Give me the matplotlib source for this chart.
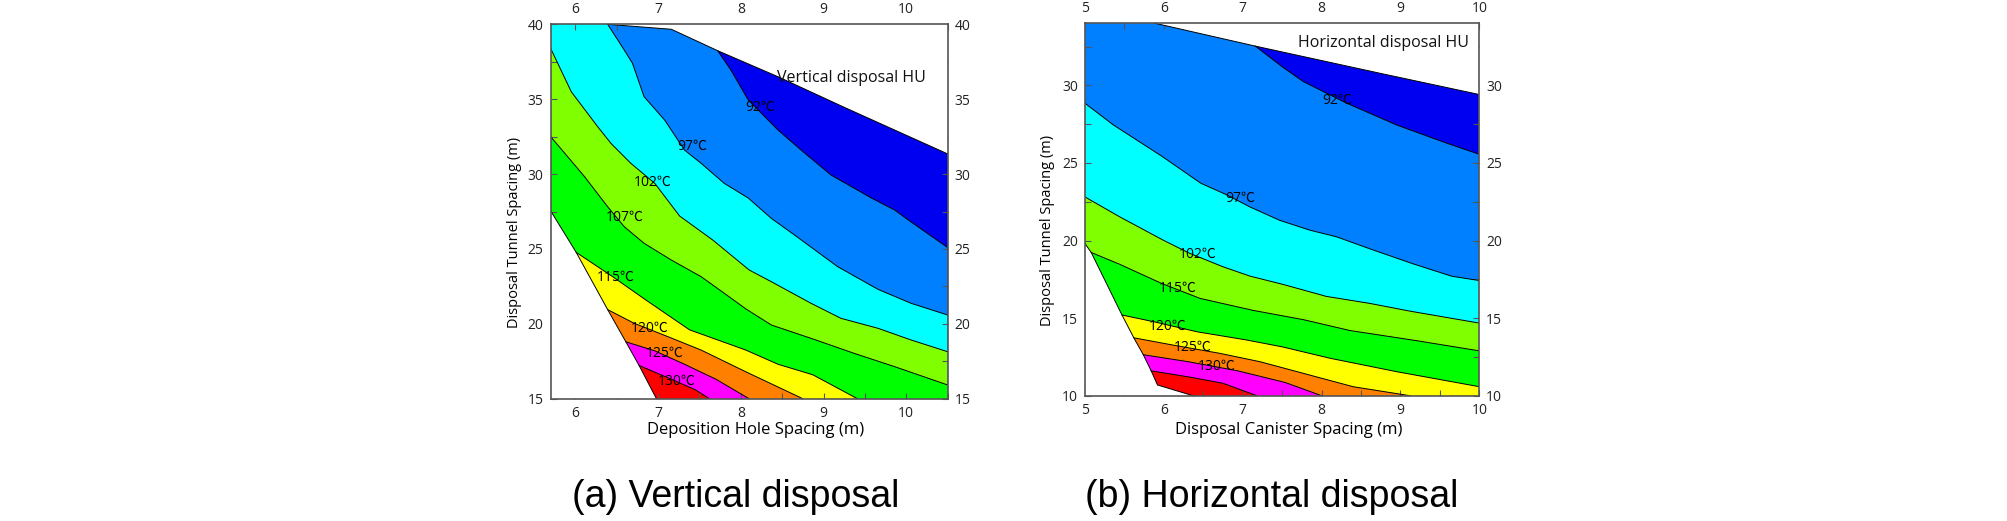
import numpy as np
import matplotlib.pyplot as plt
from matplotlib.ticker import MultipleLocator

plt.rcParams['font.family'] = ['Open Sans', 'Noto Sans CJK KR', 'DejaVu Sans']

# band colours, coldest band first
band_colors = ['#0000F0', '#0080FF', '#00FFFF', '#80FF00', '#00FF00',
               '#FFFF00', '#FF8000', '#FF00FF', '#FF0000']

# ---- (a) vertical disposal: isotherms ----
v_upper_x = [6.39, 7.16, 7.72, 8.45, 9.25, 10.5]
v_upper_y = [40.0, 39.67, 38.24, 36.5, 34.46, 31.35]
v_cut_x = [5.70, 6.01, 6.39, 6.61, 6.77, 6.98]
v_cut_y = [27.55, 24.77, 20.95, 18.8, 17.22, 15.0]

v_92_x = [7.72, 7.88, 8.09, 8.45, 8.73, 9.09, 9.58, 9.86, 10.06, 10.5]
v_92_y = [38.24, 36.95, 34.95, 32.94, 31.6, 29.94, 28.4, 27.6, 26.8, 25.1]
v_97_x = [6.39, 6.59, 6.69, 6.83, 7.08, 7.32, 7.52, 7.80, 8.09, 8.37, 8.65, 9.17, 9.66, 10.06, 10.5]
v_97_y = [40.0, 38.29, 37.4, 35.17, 33.6, 31.6, 30.72, 29.38, 28.4, 27.04, 25.93, 23.82, 22.3, 21.37, 20.59]
v_102_x = [5.70, 5.95, 6.27, 6.43, 6.67, 6.96, 7.26, 7.66, 8.1, 8.37, 8.85, 9.21, 9.66, 10.06, 10.5]
v_102_y = [38.4, 35.5, 33.16, 32.05, 30.72, 29.38, 27.2, 25.6, 23.6, 22.81, 21.37, 20.37, 19.7, 18.92, 18.14]
v_107_x = [5.70, 5.87, 6.11, 6.39, 6.59, 6.83, 7.16, 7.52, 7.80, 8.06, 8.37, 8.85, 9.37, 9.86, 10.5]
v_107_y = [32.5, 31.4, 29.83, 27.82, 26.49, 25.38, 24.26, 23.15, 22.04, 21.0, 19.92, 19.03, 18.03, 17.14, 15.92]
v_115_x = [6.01, 6.45, 6.85, 7.38, 8.06, 8.45, 8.87, 9.41]
v_115_y = [24.77, 23.15, 21.6, 19.6, 18.25, 17.3, 16.6, 15.0]
v_120_x = [6.39, 6.71, 7.12, 7.52, 8.06, 8.75]
v_120_y = [20.95, 20.04, 19.14, 18.25, 16.8, 15.0]
v_125_x = [6.61, 6.96, 7.32, 7.70, 8.10]
v_125_y = [18.8, 18.2, 17.3, 16.3, 15.0]
v_130_x = [6.77, 7.16, 7.45, 7.62]
v_130_y = [17.22, 16.3, 15.6, 15.0]

v_label_text = ['92℃', '97℃', '102℃', '107℃', '115℃', '120℃', '125℃', '130℃']
v_label_x = [8.23, 7.41, 6.94, 6.60, 6.49, 6.90, 7.08, 7.22]
v_label_y = [34.46, 31.88, 29.43, 27.11, 23.08, 19.7, 18.03, 16.14]

# ---- (b) horizontal disposal ----
h_upper_x = [5.89, 7.16, 8.74, 10.0]
h_upper_y = [34.0, 32.53, 30.78, 29.41]
h_cut_x = [5.0, 5.08, 5.47, 5.62, 5.74, 5.84, 5.92, 6.37]
h_cut_y = [19.81, 19.23, 15.2, 13.73, 12.64, 11.6, 10.69, 10.0]

h_92_x = [7.16, 7.35, 7.50, 7.77, 8.32, 8.95, 9.59, 10.0]
h_92_y = [32.53, 31.79, 31.2, 30.24, 28.85, 27.45, 26.27, 25.56]
h_97_x = [5.0, 5.36, 5.97, 6.47, 6.80, 7.09, 7.47, 7.85, 8.19, 8.66, 9.16, 9.65, 10.0]
h_97_y = [28.85, 27.45, 25.45, 23.69, 22.94, 22.17, 21.3, 20.67, 20.24, 19.38, 18.5, 17.7, 17.42]
h_102_x = [5.0, 5.44, 5.99, 6.33, 6.75, 7.09, 7.52, 8.06, 8.61, 9.12, 10.0]
h_102_y = [22.81, 21.53, 20.03, 19.17, 18.31, 17.71, 17.16, 16.4, 15.95, 15.45, 14.68]
h_115_x = [5.08, 5.44, 5.97, 6.46, 7.13, 7.77, 8.36, 9.2, 10.0]
h_115_y = [19.23, 18.47, 17.24, 16.27, 15.5, 14.9, 14.2, 13.55, 12.89]
h_120_x = [5.47, 5.87, 6.42, 7.05, 7.50, 8.11, 8.95, 10.0]
h_120_y = [15.2, 14.77, 14.12, 13.59, 13.15, 12.41, 11.55, 10.58]
h_125_x = [5.62, 6.12, 6.71, 7.22, 7.77, 8.40, 9.12]
h_125_y = [13.73, 13.26, 12.73, 12.19, 11.44, 10.58, 10.0]
h_130_x = [5.74, 6.31, 6.94, 7.54, 8.0]
h_130_y = [12.64, 12.19, 11.6, 10.85, 10.0]
h_135_x = [5.84, 6.33, 6.75, 7.18]
h_135_y = [11.6, 11.2, 10.8, 10.0]

h_label_text = ['92℃', '97℃', '102℃', '115℃', '120℃', '125℃', '130℃']
h_label_x = [8.20, 6.97, 6.43, 6.18, 6.05, 6.36, 6.67]
h_label_y = [29.04, 22.75, 19.12, 16.92, 14.44, 13.11, 11.87]

edge_col = '#555555'


def draw_panel(ax, xlim, ylim, upper, cut, lines, labels, ytick_step, title):
    x0, x1 = xlim
    y0, y1 = ylim
    m = 2.0
    ax.set_facecolor(band_colors[0])
    # each isotherm: paint everything on its hot side with the next colour
    for i, (lx, ly) in enumerate(lines):
        px = list(lx) + [lx[-1], x0 - m]
        py = list(ly) + [y0 - m, y0 - m]
        if ly[0] >= cut[1][0] or lx[0] <= x0:
            px += [x0 - m, lx[0]]
            py += [y1 + m, y1 + m]
        ax.fill(px, py, color=band_colors[i + 1], lw=0, zorder=1)
    # blank regions outside the computed domain
    ux, uy = upper
    ax.fill(list(ux) + [x1 + m, ux[0]], list(uy) + [y1 + m, y1 + m],
            color='white', lw=0, zorder=2)
    cx, cy = cut
    ax.fill(list(cx) + [x0 - m, x0 - m], list(cy) + [y0 - m, cy[0]],
            color='white', lw=0, zorder=2)
    for lx, ly in lines + [upper, cut]:
        ax.plot(lx, ly, color='black', lw=0.7, zorder=3)
    for t, tx, ty in zip(*labels):
        ax.text(tx, ty, t, ha='center', va='center', fontsize=10,
                color='black', zorder=4)
    ax.set_xlim(x0, x1)
    ax.set_ylim(y0, y1)
    ax.xaxis.set_major_locator(MultipleLocator(1))
    ax.xaxis.set_minor_locator(MultipleLocator(0.5))
    ax.yaxis.set_major_locator(MultipleLocator(ytick_step))
    ax.yaxis.set_minor_locator(MultipleLocator(ytick_step / 2))
    ax.tick_params(which='both', direction='in', top=True, right=True,
                   labeltop=True, labelright=True, length=4, width=0.8,
                   color=edge_col, labelsize=10, labelcolor='#222222', pad=5)
    for s in ax.spines.values():
        s.set_color(edge_col)
        s.set_linewidth(1.2)
        s.set_zorder(5)
    ax.text(title[1], title[2], title[0], transform=ax.transAxes,
            ha='right', va='center', fontsize=11.5, color='#111111', zorder=6)


fig = plt.figure(figsize=(20.08, 5.21), dpi=100)
ax1 = fig.add_axes([0.2742, 0.2347, 0.1977, 0.7186])
ax2 = fig.add_axes([0.5403, 0.2405, 0.1964, 0.7148])

v_lines = [(v_92_x, v_92_y), (v_97_x, v_97_y), (v_102_x, v_102_y), (v_107_x, v_107_y),
           (v_115_x, v_115_y), (v_120_x, v_120_y), (v_125_x, v_125_y), (v_130_x, v_130_y)]
h_lines = [(h_92_x, h_92_y), (h_97_x, h_97_y), (h_102_x, h_102_y), (h_115_x, h_115_y),
           (h_120_x, h_120_y), (h_125_x, h_125_y), (h_130_x, h_130_y), (h_135_x, h_135_y)]

draw_panel(ax1, (5.7, 10.5), (15, 40), (v_upper_x, v_upper_y), (v_cut_x, v_cut_y),
           v_lines, (v_label_text, v_label_x, v_label_y), 5,
           ('Vertical disposal HU', 0.945, 0.856))
draw_panel(ax2, (5, 10), (10, 34), (h_upper_x, h_upper_y), (h_cut_x, h_cut_y),
           h_lines, (h_label_text, h_label_x, h_label_y), 5,
           ('Horizontal disposal HU', 0.975, 0.948))

ax1.set_xlabel('Deposition Hole Spacing (m)', fontsize=12)
ax1.set_ylabel('Disposal Tunnel Spacing (m)', fontsize=10.5)
ax1.xaxis.set_label_coords(0.517, -0.062)
ax1.yaxis.set_label_coords(-0.073, 0.443)
ax2.set_xlabel('Disposal Canister Spacing (m)', fontsize=12)
ax2.set_ylabel('Disposal Tunnel Spacing (m)', fontsize=10.5)
ax2.xaxis.set_label_coords(0.517, -0.071)
ax2.yaxis.set_label_coords(-0.076, 0.445)

cap_font = ['Liberation Sans', 'DejaVu Sans']
fig.text(0.3665, 0.046, '(a) Vertical disposal', ha='center', va='center',
         fontsize=27, family=cap_font)
fig.text(0.6335, 0.046, '(b) Horizontal disposal', ha='center', va='center',
         fontsize=27, family=cap_font)

fig.savefig('out.png', dpi=100, facecolor='white')
